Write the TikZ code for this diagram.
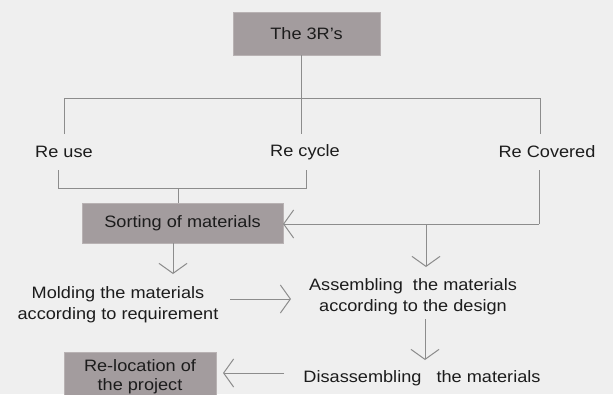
\documentclass[tikz,border=0pt]{standalone}
\usepackage{fontspec}
\setmainfont{Liberation Sans}[FakeStretch=1.1]
\usetikzlibrary{arrows.meta}
\definecolor{bg}{HTML}{EFEFEF}
\definecolor{lncol}{HTML}{8C8C8C}
\definecolor{boxfill}{HTML}{A39C9E}
\definecolor{boxedge}{HTML}{B8B2B3}
\definecolor{txt}{HTML}{1C1C1C}
\tikzset{
  ln/.style={draw=lncol, line width=1pt},
  arr/.style={ln, -{Straight Barb[length=10pt,width=28pt,line width=1pt]}},
  lbl/.style={font=\fontsize{16.5}{21}\selectfont, text=txt, align=center, inner sep=0pt},
  greybox/.style={lbl, fill=boxfill, draw=boxedge, line width=0.8pt}
}
\begin{document}
\begin{tikzpicture}[x=1pt,y=-1pt]
  \useasboundingbox (0,0) rectangle (613,394);
  \clip (0,0) rectangle (613,394);
  \fill[bg] (0,0) rectangle (613,394);

  % boxes
  \node[greybox, minimum width=147pt, minimum height=43pt] (t) at (306.5,33.5) {The 3R's};
  \node[greybox, minimum width=201pt, minimum height=40pt] (sort) at (182.5,223) {Sorting of materials};
  \node[greybox, minimum width=152pt, minimum height=49pt,
        font=\fontsize{16.5}{19.5}\selectfont] (reloc) at (140,376.5) {Re-location of\\the project};

  % plain labels
  \node[lbl] (reuse) at (64,152) {Re use};
  \node[lbl] (recyc) at (305,152) {Re cycle};
  \node[lbl] (recov) at (547,152) {Re Covered};
  \node[lbl] (mold) at (118,305) {Molding the materials\\according to requirement};
  \node[lbl] (assem) at (413,297) {Assembling\ \ the materials\\according to the design};
  \node[lbl] (disas) at (422,378) {Disassembling\ \ \ the materials};

  % junction points
  \coordinate (tb) at (301,55);
  \coordinate (hL) at (64.5,98);
  \coordinate (hR) at (540,98);
  \coordinate (aU) at (64.5,134);
  \coordinate (aC) at (301,134);
  \coordinate (aR) at (540,134);
  \coordinate (bU) at (58.6,170);
  \coordinate (bC) at (306.6,170);
  \coordinate (bR) at (539,170);
  \coordinate (mL) at (58.6,188);
  \coordinate (mR) at (306.6,188);
  \coordinate (mS) at (178,188);
  \coordinate (sT) at (178,203);
  \coordinate (cR) at (539,224);
  \coordinate (cS) at (283,224);
  \coordinate (dA) at (426,224);
  \coordinate (dB) at (426,267);
  \coordinate (sB) at (173,243);
  \coordinate (mT) at (173,274);
  \coordinate (m1) at (230,299);
  \coordinate (m2) at (291,299);
  \coordinate (a1) at (425,319);
  \coordinate (a2) at (425,360);
  \coordinate (d1) at (284,373);
  \coordinate (d2) at (223,373);

  % connectors
  \draw[ln] (tb) -- (aC);
  \draw[ln] (aU) -- (hL) -- (hR) -- (aR);
  \draw[ln] (bU) -- (mL) -- (mR) -- (bC);
  \draw[ln] (mS) -- (sT);
  \draw[ln] (bR) -- (cR);
  \draw[arr] (cR) -- (cS);
  \draw[arr] (dA) -- (dB);
  \draw[arr] (sB) -- (mT);
  \draw[arr] (m1) -- (m2);
  \draw[arr] (a1) -- (a2);
  \draw[arr] (d1) -- (d2);
\end{tikzpicture}
\end{document}
